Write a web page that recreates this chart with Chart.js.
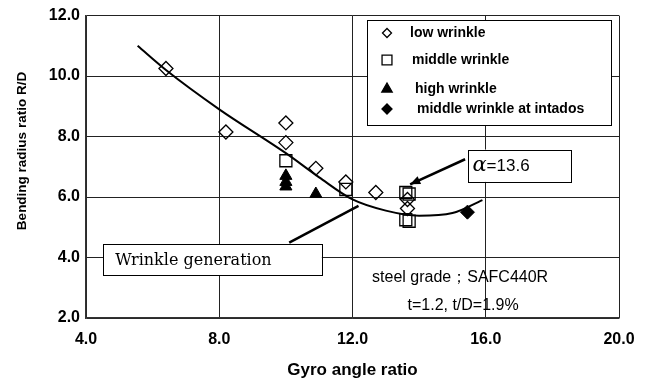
<!DOCTYPE html>
<html>
<head>
<meta charset="utf-8">
<script src="https://cdn.jsdelivr.net/npm/chart.js@4.4.1/dist/chart.umd.min.js"></script>
<style>
html,body{margin:0;padding:0;background:#fff;}
</style>
</head>
<body>
<canvas id="myChart" width="649" height="385"></canvas>
<script>
// values
const xTickLabels = ["4.0", "8.0", "12.0", "16.0", "20.0"];
const yTickLabels = ["2.0", "4.0", "6.0", "8.0", "10.0", "12.0"];

const lowX = [6.4, 8.2, 10.0, 10.0, 10.9, 11.8, 12.7, 13.65, 13.65];
const lowY = [10.25, 8.15, 8.45, 7.8, 6.95, 6.5, 6.15, 5.92, 5.62];

const midX = [10.0, 11.8, 13.6, 13.7, 13.6, 13.7];
const midY = [7.2, 6.25, 6.15, 6.1, 5.25, 5.2];

const highX = [10.0, 10.0, 10.0, 10.9];
const highY = [6.7, 6.5, 6.35, 6.1];

const intadosX = [15.45];
const intadosY = [5.5];

const curveX = [5.55, 6.4, 8.0, 10.0, 11.0, 12.0, 13.0, 14.0, 15.0, 15.9];
const curveY = [11.0, 10.2, 8.9, 7.45, 6.65, 5.92, 5.55, 5.38, 5.47, 5.9];

function pts(xs, ys){
  return xs.map(function(x, i){ return {x: x, y: ys[i]}; });
}

const sans = '"Liberation Sans", Arial, sans-serif';

// legend, boxes, arrows and notes
const notes = {
  id: 'notes',
  afterDatasetsDraw(chart){
    const ctx = chart.ctx;
    const xs = chart.scales.x, ys = chart.scales.y;
    const px = v => xs.getPixelForValue(v);
    const py = v => ys.getPixelForValue(v);
    ctx.save();

    // y axis title (sits a bit above the middle in the original)
    ctx.save();
    ctx.translate(22, 151);
    ctx.rotate(-Math.PI / 2);
    ctx.fillStyle = '#000';
    ctx.font = 'bold 13.5px ' + sans;
    ctx.textAlign = 'center';
    ctx.textBaseline = 'middle';
    ctx.fillText('Bending radius ratio R/D', 0, 0);
    ctx.restore();

    // legend box
    ctx.fillStyle = '#fff';
    ctx.strokeStyle = '#000';
    ctx.lineWidth = 1;
    ctx.fillRect(367, 20, 244, 105);
    ctx.strokeRect(367.5, 20.5, 244, 105);
    const items = [
      ['low wrinkle', 'rectRot', 4.5, false, 33, 410],
      ['middle wrinkle', 'rect', 7, false, 60, 412],
      ['high wrinkle', 'triangle', 6, true, 89, 415],
      ['middle wrinkle at intados', 'rectRot', 5, true, 109, 417]
    ];
    items.forEach(function(it){
      ctx.fillStyle = it[3] ? '#000' : 'rgba(0,0,0,0)';
      ctx.strokeStyle = '#000';
      ctx.lineWidth = 1.3;
      Chart.helpers.drawPoint(ctx, {pointStyle: it[1], radius: it[2], rotation: 0, borderWidth: 1.3}, 387, it[4]);
      ctx.fillStyle = '#000';
      ctx.font = 'bold 14px ' + sans;
      ctx.textAlign = 'left';
      ctx.textBaseline = 'middle';
      ctx.fillText(it[0], it[5], it[4]);
    });

    // wrinkle generation
    ctx.strokeStyle = '#000';
    ctx.lineWidth = 2.5;
    ctx.beginPath();
    ctx.moveTo(px(10.1), py(4.49));
    ctx.lineTo(px(12.18), py(5.71));
    ctx.stroke();
    const bx1 = px(4.52), by1 = py(4.44), bx2 = px(11.08), by2 = py(3.42);
    ctx.fillStyle = '#fff';
    ctx.fillRect(bx1, by1, bx2 - bx1, by2 - by1);
    ctx.lineWidth = 1;
    ctx.strokeRect(Math.round(bx1) + 0.5, Math.round(by1) + 0.5, Math.round(bx2 - bx1), Math.round(by2 - by1));
    ctx.fillStyle = '#000';
    ctx.font = '16px "DejaVu Serif", serif';
    ctx.textBaseline = 'middle';
    ctx.textAlign = 'left';
    ctx.fillText('Wrinkle generation', bx1 + 12, (by1 + by2) / 2 + 1);

    // alpha arrow and box
    const ax1 = px(15.38), ay1 = py(7.25), ax2 = px(13.73), ay2 = py(6.42);
    ctx.lineWidth = 2.5;
    ctx.beginPath();
    ctx.moveTo(ax1, ay1);
    ctx.lineTo(ax2, ay2);
    ctx.stroke();
    const ang = Math.atan2(ay2 - ay1, ax2 - ax1);
    ctx.beginPath();
    ctx.moveTo(ax2, ay2);
    ctx.lineTo(ax2 - 11 * Math.cos(ang - 0.4), ay2 - 11 * Math.sin(ang - 0.4));
    ctx.lineTo(ax2 - 11 * Math.cos(ang + 0.4), ay2 - 11 * Math.sin(ang + 0.4));
    ctx.closePath();
    ctx.fill();
    const cx1 = px(15.48), cy1 = py(7.57), cx2 = px(18.56), cy2 = py(6.5);
    ctx.fillStyle = '#fff';
    ctx.fillRect(cx1, cy1, cx2 - cx1, cy2 - cy1);
    ctx.lineWidth = 1;
    ctx.strokeRect(Math.round(cx1) + 0.5, Math.round(cy1) + 0.5, Math.round(cx2 - cx1), Math.round(cy2 - cy1));
    ctx.fillStyle = '#000';
    ctx.font = 'italic 21px "DejaVu Serif", serif';
    ctx.fillText('\u03b1', cx1 + 4, (cy1 + cy2) / 2);
    const aw = ctx.measureText('\u03b1').width;
    ctx.font = '17px ' + sans;
    ctx.fillText('=13.6', cx1 + 4 + aw, (cy1 + cy2) / 2 + 1);

    // material notes
    ctx.textAlign = 'center';
    ctx.font = '16px ' + sans;
    ctx.fillText('steel grade\uff1bSAFC440R', px(15.23), py(3.35));
    ctx.fillText('t=1.2, t/D=1.9%', px(15.32), py(2.4));
    ctx.restore();
  }
};

const ctx = document.getElementById('myChart');
const myChart = new Chart(ctx, {
  type: 'scatter',
  data: {
    datasets: [
      {
        label: 'fit',
        type: 'line',
        data: pts(curveX, curveY),
        borderColor: '#000',
        borderWidth: 2,
        pointRadius: 0,
        fill: false,
        cubicInterpolationMode: 'monotone'
      },
      {
        label: 'low wrinkle',
        data: pts(lowX, lowY),
        pointStyle: 'rectRot',
        pointRadius: 7,
        backgroundColor: 'rgba(0,0,0,0)',
        borderColor: '#000',
        borderWidth: 1.3
      },
      {
        label: 'middle wrinkle',
        data: pts(midX, midY),
        pointStyle: 'rect',
        pointRadius: 8.5,
        backgroundColor: 'rgba(0,0,0,0)',
        borderColor: '#000',
        borderWidth: 1.3
      },
      {
        label: 'high wrinkle',
        data: pts(highX, highY),
        pointStyle: 'triangle',
        pointRadius: 7,
        backgroundColor: '#000',
        borderColor: '#000',
        borderWidth: 1
      },
      {
        label: 'middle wrinkle at intados',
        data: pts(intadosX, intadosY),
        pointStyle: 'rectRot',
        pointRadius: 7,
        backgroundColor: '#000',
        borderColor: '#000',
        borderWidth: 1
      }
    ]
  },
  options: {
    responsive: false,
    animation: false,
    layout: {padding: {top: 15, right: 30, left: 0, bottom: 0}},
    plugins: {legend: {display: false}, tooltip: {enabled: false}},
    scales: {
      x: {
        type: 'linear',
        min: 4, max: 20,
        afterBuildTicks: s => { s.ticks = xTickLabels.map(t => ({value: parseFloat(t)})); },
        afterFit: s => { s.height = 67; },
        ticks: {
          padding: 12,
          color: '#000',
          font: {family: sans, size: 16, weight: 'bold'},
          callback: (v, i) => xTickLabels[i]
        },
        grid: {color: '#222', lineWidth: 1, drawTicks: false},
        border: {color: '#333', width: 1.5},
        title: {
          display: true,
          text: 'Gyro angle ratio',
          color: '#000',
          font: {family: sans, size: 17, weight: 'bold'},
          padding: {top: 0, bottom: 4}
        }
      },
      y: {
        type: 'linear',
        min: 2, max: 12,
        afterBuildTicks: s => { s.ticks = yTickLabels.map(t => ({value: parseFloat(t)})); },
        afterFit: s => { s.width = 86; },
        ticks: {
          padding: 6,
          color: '#000',
          font: {family: sans, size: 16, weight: 'bold'},
          callback: (v, i) => yTickLabels[i]
        },
        grid: {color: '#222', lineWidth: 1, drawTicks: false},
        border: {color: '#333', width: 1.5},
        title: {display: false}
      }
    }
  },
  plugins: [notes]
});
</script>
</body>
</html>
